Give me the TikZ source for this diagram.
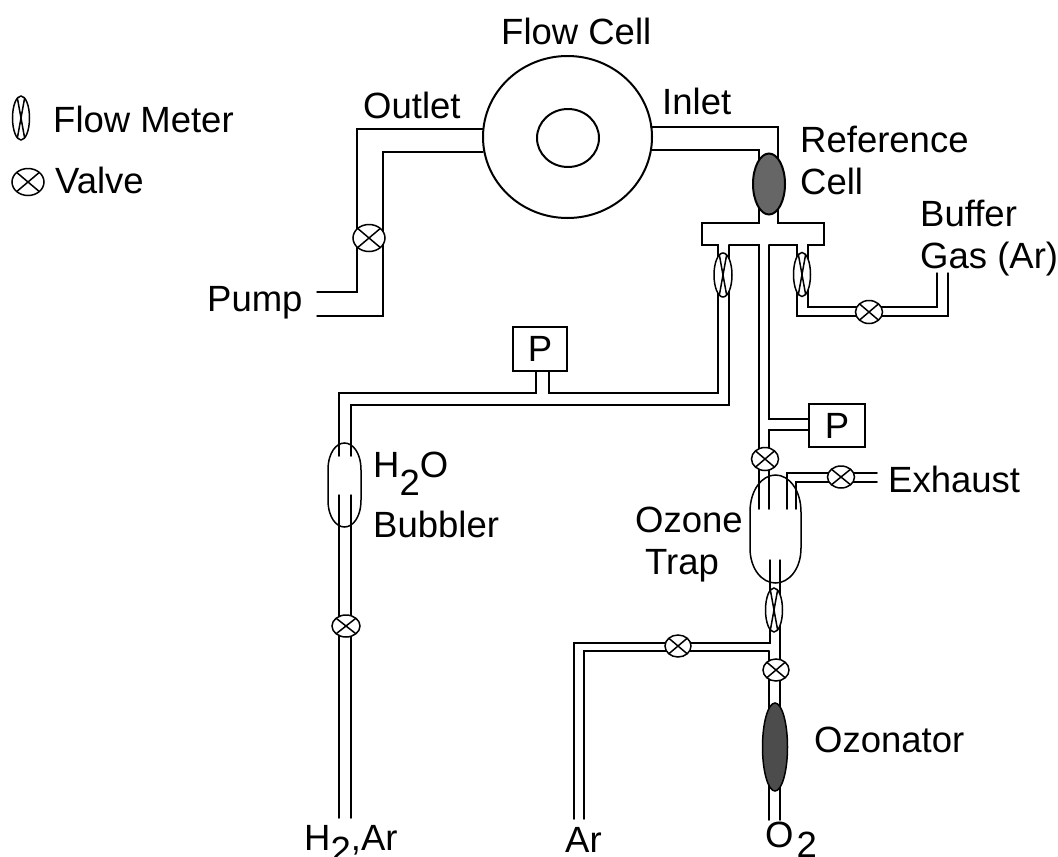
\documentclass[tikz,border=0pt]{standalone}
\usepackage{fontspec}
\setmainfont{Liberation Sans}
\usetikzlibrary{shapes.geometric,positioning}
\newcommand{\lowtwo}[1]{\raisebox{-#1pt}{2}}

\begin{document}
\begin{tikzpicture}[x=1pt, y=-1pt, line cap=round, line join=miter,
    tube/.style={line width=1.5pt},
    lab/.style={anchor=base west, inner sep=0pt, font=\fontsize{36.5}{40}\selectfont},
    valve/.style={ellipse, draw, fill=white, line width=1.5pt, inner sep=0pt, minimum width=27pt, minimum height=23pt,
      path picture={\draw[line width=1.5pt] (path picture bounding box.north west) -- (path picture bounding box.south east)
        (path picture bounding box.north east) -- (path picture bounding box.south west);}},
    meter/.style={ellipse, draw, fill=white, line width=1.5pt, inner sep=0pt, minimum width=17pt, minimum height=44pt,
      path picture={\draw[line width=1.5pt] ([xshift=-4pt]path picture bounding box.north) -- ([xshift=4pt]path picture bounding box.south)
        ([xshift=4pt]path picture bounding box.north) -- ([xshift=-4pt]path picture bounding box.south);}},
    gauge/.style={rectangle, draw, line width=1.5pt, inner sep=0pt, minimum width=54pt, minimum height=44pt, font=\fontsize{36.5}{40}\selectfont}]
  \useasboundingbox (0,0) rectangle (1058,857);

  % flow cell
  \node[ellipse, draw, line width=2pt, inner sep=0pt, minimum width=169pt, minimum height=162pt] (fcell) at (567.5,137) {};
  \node[ellipse, draw, line width=2pt, inner sep=0pt, minimum width=62pt, minimum height=58pt] (fcore) at (568,138) {};

  % pressure gauges and vessels
  \node[gauge] (pone) at (540,349) {P};
  \node[gauge, minimum width=56pt, minimum height=43pt] (ptwo) at (837,425.5) {P};
  \draw[tube] (750,512) .. controls (750,490) and (762,475) .. (775.5,475) .. controls (789,475) and (801,490) .. (801,512)
    -- (801,548) .. controls (801,569) and (789,583) .. (775.5,583) .. controls (762,583) and (750,569) .. (750,548) -- cycle;
  \draw[tube] (328,470) .. controls (328,453) and (336,443) .. (344.5,443) .. controls (353,443) and (361,453) .. (361,470)
    -- (361,500) .. controls (361,517) and (353,527) .. (344.5,527) .. controls (336,527) and (328,517) .. (328,500) -- cycle;

  % free ends of the tubes
  \coordinate (pumpa) at (317,292);
  \coordinate (pumpb) at (317,316);
  \coordinate (bufa) at (937,273);
  \coordinate (bufb) at (948,273);
  \coordinate (exa) at (877,473);
  \coordinate (exb) at (877,482);
  \coordinate (hya) at (339,818);
  \coordinate (hyb) at (351,818);
  \coordinate (ara) at (574,819);
  \coordinate (arb) at (584,819);
  \coordinate (oxa) at (769,820);
  \coordinate (oxb) at (780,820);

  % tubes
  \draw[tube] (483,129) -- (357,129) -- (357,292) -- (pumpa);
  \draw[tube] (483,152) -- (383,152) -- (383,316) -- (pumpb);
  \draw[tube] (651,127) -- (778,127) -- (778,223) -- (824,223) -- (824,245) -- (808,245) -- (808,307) -- (937,307) -- (bufa);
  \draw[tube] (651,150) -- (759,150) -- (759,223) -- (702,223) -- (702,245) -- (718,245) -- (718,393) -- (549,393) -- (549,371);
  \draw[tube] (536,371) -- (536,393) -- (339,393) -- (339,456);
  \draw[tube] (729,245) -- (729,405) -- (351,405) -- (351,456);
  \draw[tube] (729,245) -- (759,245) -- (759,509);
  \draw[tube] (769,245) -- (797,245) -- (797,316) -- (948,316) -- (bufb);
  \draw[tube] (769,245) -- (769,419) -- (809,419);
  \draw[tube] (809,430) -- (769,430) -- (769,509);
  \draw[tube] (787,509) -- (787,473) -- (exa);
  \draw[tube] (796,509) -- (796,482) -- (exb);
  \draw[tube] (339,495) -- (hya);
  \draw[tube] (351,495) -- (hyb);
  \draw[tube] (770,560) -- (770,643) -- (574,643) -- (ara);
  \draw[tube] (769,651) -- (584,651) -- (arb);
  \draw[tube] (769,651) -- (oxa);
  \draw[tube] (780,560) -- (oxb);

  % valves and flow meters
  \node[valve, minimum width=32pt, minimum height=27pt] (vpump) at (369,238) {};
  \node[meter, minimum width=18pt] (mleft) at (723,275) {};
  \node[meter] (mright) at (802,274.5) {};
  \node[valve] (vbuf) at (869,312) {};
  \node[valve] (vtrap) at (765,459) {};
  \node[valve, minimum height=22pt] (vex) at (841,477) {};
  \node[meter] (mtrap) at (774,610) {};
  \node[valve, minimum height=22pt, minimum width=26pt] (vox) at (776,670) {};
  \node[valve, minimum height=22pt, minimum width=26pt] (var) at (678,646) {};
  \node[valve, minimum height=22pt, minimum width=28pt] (vhy) at (346,626) {};

  % cells with discharge
  \node[ellipse, draw, line width=2pt, fill=black!60, inner sep=0pt, minimum width=32pt, minimum height=61pt] (rcell) at (769,184) {};
  \node[ellipse, draw, line width=1.5pt, fill=black!70, inner sep=0pt, minimum width=25pt, minimum height=88pt] (ozon) at (775,747) {};

  % legend
  \node[meter] (lmeter) at (21,118) {};
  \node[valve, minimum width=32pt, minimum height=27pt] (lvalve) at (28,182) {};
  \node[lab] (lflow) at (53,132) {Flow Meter};
  \node[lab] (lval) at (55,193) {Valve};

  % labels
  \node[lab] (tcell) at (501,44) {Flow Cell};
  \node[lab] (toutlet) at (363,118) {Outlet};
  \node[lab] (tinlet) at (662,114) {Inlet};
  \node[lab] (tref) at (800,152) {Reference};
  \node[lab] (trefb) at (800,194) {Cell};
  \node[lab] (tbuf) at (920,226) {Buffer};
  \node[lab] (tgas) at (920,268) {Gas (Ar)};
  \node[lab] (tpump) at (207,311) {Pump};
  \node[lab] (twater) at (373,477) {H\lowtwo{18}O};
  \node[lab] (tbub) at (373,537) {Bubbler};
  \node[lab] (toz) at (635,532) {Ozone};
  \node[lab] (ttrap) at (645,574) {Trap};
  \node[lab] (texh) at (888,492) {Exhaust};
  \node[lab] (tozon) at (814,752) {Ozonator};
  \node[lab] (thyd) at (304,850) {H\lowtwo{12},Ar};
  \node[lab] (tar) at (565,852) {Ar};
  \node[lab] (toxy) at (765,847) {O\kern3pt\lowtwo{10}};
\end{tikzpicture}
\end{document}
